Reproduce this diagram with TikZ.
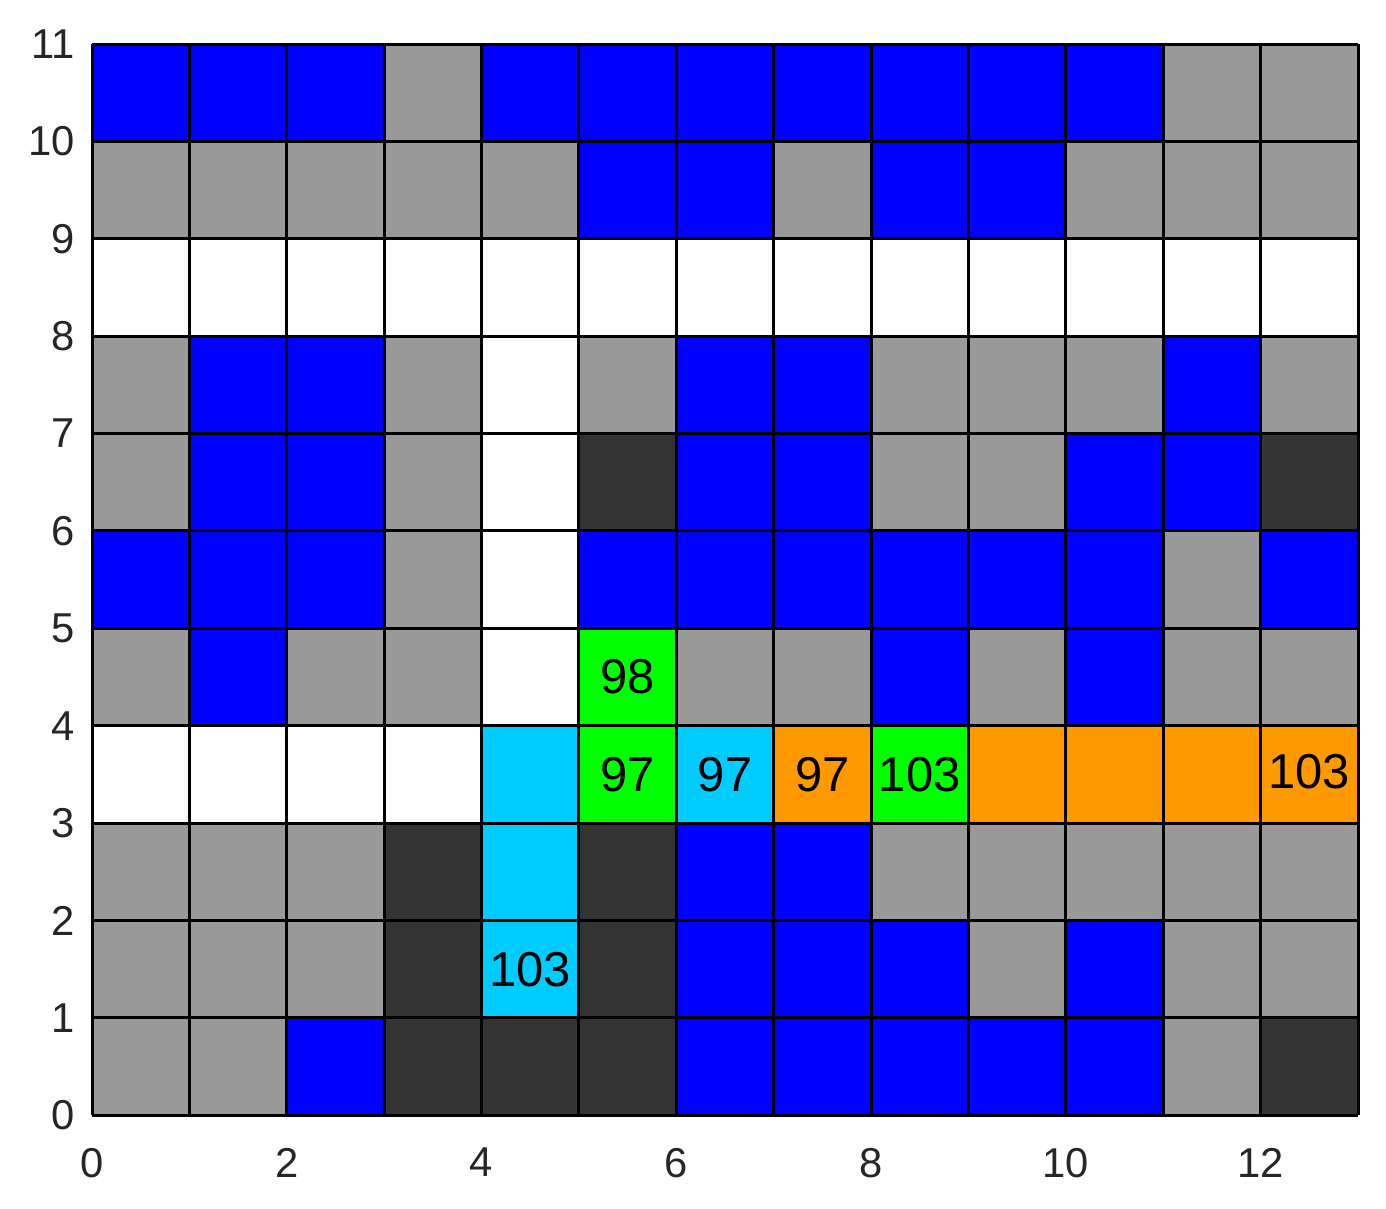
\documentclass[tikz,border=0pt]{standalone}
\usepackage{fontspec}
\setmainfont{Liberation Sans}
\definecolor{cB}{HTML}{0000FF}
\definecolor{cG}{HTML}{999999}
\definecolor{cD}{HTML}{333333}
\definecolor{cW}{HTML}{FFFFFF}
\definecolor{cC}{HTML}{00CCFF}
\definecolor{cL}{HTML}{00FF00}
\definecolor{cO}{HTML}{FF9900}
\definecolor{tickgray}{HTML}{262626}
\tikzset{
  celllabel/.style={font=\fontsize{14.3}{17}\selectfont, text=black, inner sep=0pt},
  ticklabel/.style={font=\fontsize{12.2}{14}\selectfont, text=tickgray, inner sep=0pt},
  gridline/.style={line width=0.87pt, black}
}
\begin{document}
\begin{tikzpicture}
\useasboundingbox (-0.945,-0.955) rectangle (13.287,11.452);
\foreach \y/\row in {
  10/{B,B,B,G,B,B,B,B,B,B,B,G,G},
  9/{G,G,G,G,G,B,B,G,B,B,G,G,G},
  8/{W,W,W,W,W,W,W,W,W,W,W,W,W},
  7/{G,B,B,G,W,G,B,B,G,G,G,B,G},
  6/{G,B,B,G,W,D,B,B,G,G,B,B,D},
  5/{B,B,B,G,W,B,B,B,B,B,B,G,B},
  4/{G,B,G,G,W,L,G,G,B,G,B,G,G},
  3/{W,W,W,W,C,L,C,O,L,O,O,O,O},
  2/{G,G,G,D,C,D,B,B,G,G,G,G,G},
  1/{G,G,G,D,C,D,B,B,B,G,B,G,G},
  0/{G,G,B,D,D,D,B,B,B,B,B,G,D}}{
  \foreach \c [count=\x from 0] in \row {
    \fill[c\c] (\x,\y) rectangle ++(1,1);
  }
}
\draw[gridline] (0,0) grid (13,11);
% cell labels
\node[celllabel] (l98) at (5.5,4.5) {98};
\node[celllabel] (l97a) at (5.5,3.5) {97};
\node[celllabel] (l97b) at (6.5,3.5) {97};
\node[celllabel] (l97c) at (7.5,3.5) {97};
\node[celllabel] (l103a) at (8.5,3.5) {103};
\node[celllabel] (l103b) at (12.5,3.53) {103};
\node[celllabel] (l103c) at (4.5,1.5) {103};
% ticks
\foreach \t in {0,2,...,12} {
  \node[ticklabel, anchor=north] (xt\t) at (\t,-0.33) {\t};
}
\foreach \t in {0,...,11} {
  \node[ticklabel, anchor=east] (yt\t) at (-0.17,\t) {\t};
}
\end{tikzpicture}
\end{document}
